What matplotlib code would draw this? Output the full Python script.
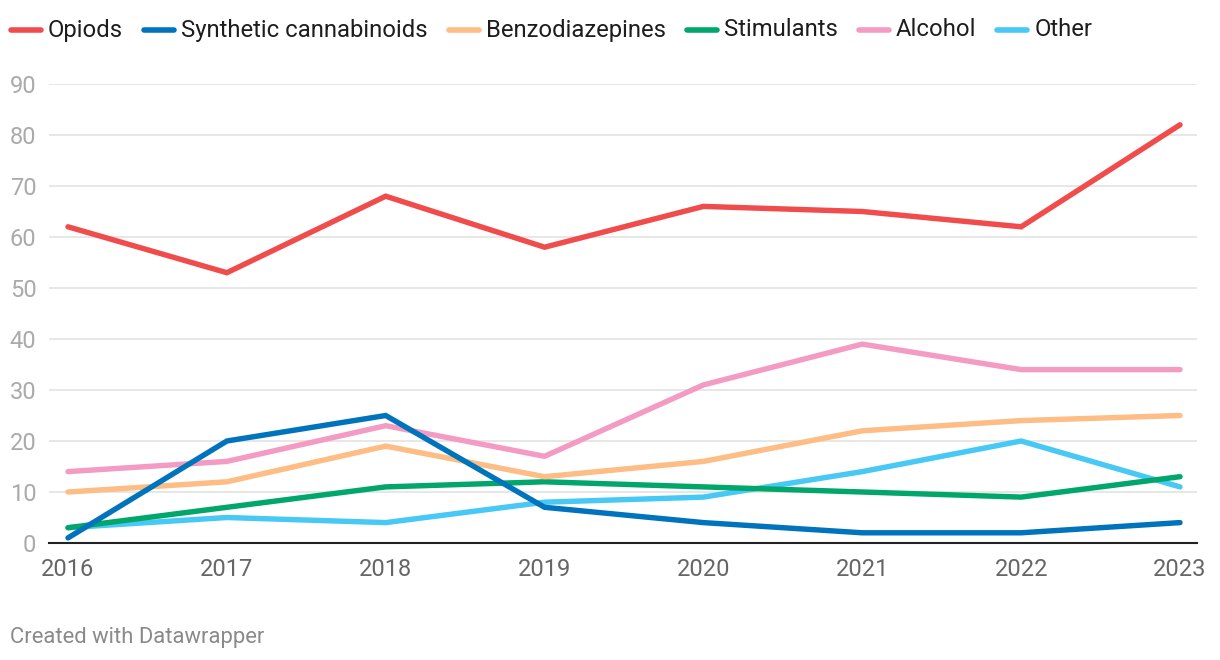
import matplotlib.pyplot as plt
from matplotlib.lines import Line2D

plt.rcParams['font.family'] = ['Roboto', 'DejaVu Sans']

years = [2016, 2017, 2018, 2019, 2020, 2021, 2022, 2023]
opioids = [62, 53, 68, 58, 66, 65, 62, 82]
synthetic = [1, 20, 25, 7, 4, 2, 2, 4]
benzos = [10, 12, 19, 13, 16, 22, 24, 25]
stimulants = [3, 7, 11, 12, 11, 10, 9, 13]
alcohol = [14, 16, 23, 17, 31, 39, 34, 34]
other = [3, 5, 4, 8, 9, 14, 20, 11]

names = ["Opiods", "Synthetic cannabinoids", "Benzodiazepines", "Stimulants", "Alcohol", "Other"]
series = [opioids, synthetic, benzos, stimulants, alcohol, other]
colors = ["#f04c4c", "#0073bd", "#fdbd84", "#00a66a", "#f49bc3", "#48c8f5"]

fig = plt.figure(figsize=(12.2, 6.6), dpi=100)
ax = fig.add_axes([49 / 1220, 117 / 660, 1148 / 1220, 459 / 660])

# draw last series first so the first ones sit on top
for vals, c in list(zip(series, colors))[::-1]:
    ax.plot(years, vals, color=c, lw=3.9, solid_capstyle='round',
            solid_joinstyle='miter', clip_on=False, zorder=3)

ax.set_xlim(2016 - 19 / 158.86, 2023 + 17 / 158.86)
ax.set_ylim(0, 90)
ax.set_yticks(range(0, 91, 10))
ax.set_xticks(years)
ax.grid(axis='y', color='#e3e3e3', lw=1.2)
ax.set_axisbelow(True)
for s in ['top', 'right', 'left']:
    ax.spines[s].set_visible(False)
ax.spines['bottom'].set_color('#222222')
ax.spines['bottom'].set_linewidth(1.5)
ax.spines['bottom'].set_zorder(4)
ax.tick_params(axis='y', length=0, labelsize=17, labelcolor='#aaaaaa', pad=9)
ax.tick_params(axis='x', length=0, labelsize=17, labelcolor='#666666', pad=11)

# legend laid out by hand along the top
fig.canvas.draw()
renderer = fig.canvas.get_renderer()
x = 10
ly = 660 - 30
for name, c in zip(names, colors):
    fig.add_artist(Line2D([(x + 1) / 1220, (x + 31) / 1220], [ly / 660, ly / 660],
                          color=c, lw=4, solid_capstyle='round'))
    t = fig.text((x + 38) / 1220, ly / 660, name, fontsize=17.2, color='#1d1d1d',
                 va='center', ha='left')
    w = t.get_window_extent(renderer).width
    x = x + 38 + w + 20

fig.text(10 / 1220, 23 / 660, "Created with Datawrapper", fontsize=15.8,
         color='#8a8a8a', va='center', ha='left')

fig.savefig('out.png', dpi=100)
